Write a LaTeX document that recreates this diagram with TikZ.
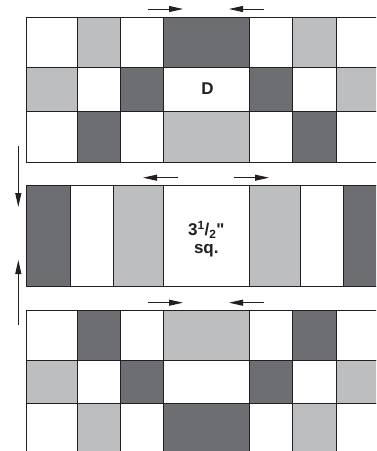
\documentclass[tikz,border=0pt]{standalone}
\usepackage{fontspec}
\setmainfont{Liberation Sans}
\newfontfamily\lblfont{Liberation Sans}
\usetikzlibrary{arrows.meta}
\definecolor{dk}{HTML}{6D6E71}
\definecolor{lt}{HTML}{BCBEC0}
\definecolor{ln}{HTML}{231F20}
\newcommand\gridrow[3]{%
  \foreach \a/\b/\c in {#3} {\filldraw[cell, fill=\c] (\a,#1) rectangle (\b,#2);}}
\begin{document}
\begin{tikzpicture}[x=1pt,y=-1pt,
  cell/.style={draw=ln,line width=1pt},
  arr/.style={draw=ln,line width=0.9pt,-{Triangle[length=14pt,width=6pt]}},
  lbl/.style={font=\lblfont\fontsize{17}{18}\selectfont\bfseries,text=ln,align=center,inner sep=0pt}]
\useasboundingbox (0,0) rectangle (376,451);
\clip (0,0) rectangle (376,451);
% top block
\gridrow{17.5}{67.7}{26.7/77.3/white, 77.3/120/lt, 120/163.3/white, 163.3/249.3/dk, 249.3/292.7/white, 292.7/336/lt, 336/390/white}
\gridrow{67.7}{111}{26.7/77.3/lt, 77.3/120/white, 120/163.3/dk, 163.3/249.3/white, 249.3/292.7/dk, 292.7/336/white, 336/390/lt}
\gridrow{111}{162}{26.7/77.3/white, 77.3/120/dk, 120/163.3/white, 163.3/249.3/lt, 249.3/292.7/white, 292.7/336/dk, 336/390/white}
% middle block
\gridrow{185}{286.7}{26.7/70/dk, 70/113.3/white, 113.3/163.3/lt, 163.3/249.3/white, 249.3/300.7/lt, 300.7/343.3/white, 343.3/390/dk}
% bottom block
\gridrow{310.7}{360.7}{26.7/77.3/white, 77.3/120/dk, 120/163.3/white, 163.3/249.3/lt, 249.3/292.7/white, 292.7/336/dk, 336/390/white}
\gridrow{360.7}{403.3}{26.7/77.3/lt, 77.3/120/white, 120/163.3/dk, 163.3/249.3/white, 249.3/292.7/dk, 292.7/336/white, 336/390/lt}
\gridrow{403.3}{470}{26.7/77.3/white, 77.3/120/lt, 120/163.3/white, 163.3/249.3/dk, 249.3/292.7/white, 292.7/336/lt, 336/390/white}
% labels
\node[lbl] (D) at (207.5,88.9) {D};
\node[lbl] (sq) at (206.3,239) {3\textsuperscript{1}/\textsubscript{2}"\\sq.};
% arrows
\coordinate (a1s) at (148,9);   \coordinate (a1e) at (183,9);
\coordinate (a2s) at (264,9);   \coordinate (a2e) at (229,9);
\coordinate (b1s) at (178,177.7); \coordinate (b1e) at (143,177.7);
\coordinate (b2s) at (234,177.7); \coordinate (b2e) at (269,177.7);
\coordinate (c1s) at (148,302.7); \coordinate (c1e) at (183,302.7);
\coordinate (c2s) at (264,302.7); \coordinate (c2e) at (229,302.7);
\coordinate (v1s) at (18.3,146); \coordinate (v1e) at (18.3,207);
\coordinate (v2s) at (18.3,325); \coordinate (v2e) at (18.3,260);
\foreach \p in {a1,a2,b1,b2,c1,c2,v1,v2} {\draw[arr] (\p s) -- (\p e);}
\end{tikzpicture}
\end{document}
